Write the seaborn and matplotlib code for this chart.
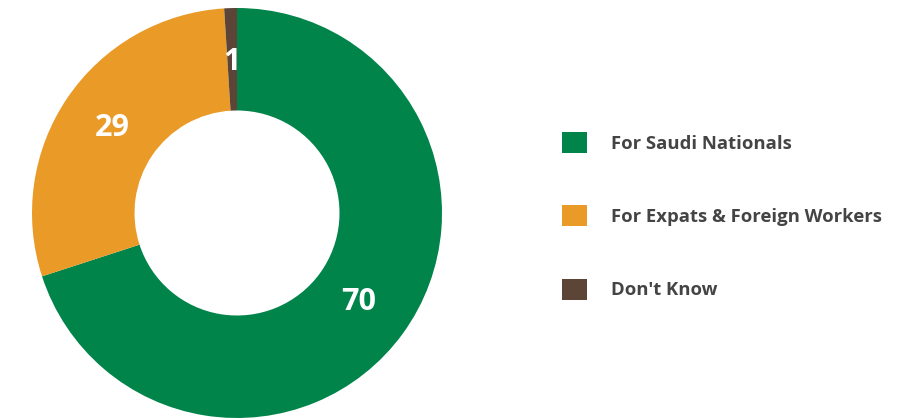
import matplotlib
matplotlib.use("Agg")
import matplotlib.pyplot as plt
import seaborn as sns
import numpy as np

categories = ["For Saudi Nationals", "For Expats & Foreign Workers", "Don't Know"]
values = [70, 29, 1]
colors = ["#00844A", "#EA9A26", "#5C4536"]

sns.set_theme(style="white")
plt.rcParams["font.family"] = ["Open Sans", "DejaVu Sans"]

fig = plt.figure(figsize=(9, 4.2), dpi=100)
W, H = 900, 420
cx, cy, R = 237, 213, 205
ax = fig.add_axes([(cx - R) / W, (H - cy - R) / H, 2 * R / W, 2 * R / H])
wedges, _ = ax.pie(values, colors=colors, startangle=90, counterclock=False,
                   radius=1, wedgeprops=dict(width=0.5, linewidth=0))
ax.set_xlim(-1, 1)
ax.set_ylim(-1, 1)
ax.set_aspect("equal")
ax.axis("off")

for w, v in zip(wedges, values):
    mid = np.deg2rad((w.theta1 + w.theta2) / 2)
    r = 0.735
    ax.text(r * np.cos(mid), r * np.sin(mid), f"{v}", ha="center", va="center",
            color="white", fontsize=22, fontweight="bold")

fs = 13.3
fpx = fs * 100 / 72
leg = fig.legend(wedges, categories, loc="upper left",
                 bbox_to_anchor=(562 / W, 1 - 132 / H), frameon=False,
                 handlelength=25 / fpx, handleheight=25 / fpx, handletextpad=24 / fpx,
                 labelspacing=2.85, borderpad=0, borderaxespad=0,
                 prop=dict(family=["Open Sans", "DejaVu Sans"], weight="bold", size=fs))
for t in leg.get_texts():
    t.set_color("#444444")

fig.savefig("out.png", dpi=100)
